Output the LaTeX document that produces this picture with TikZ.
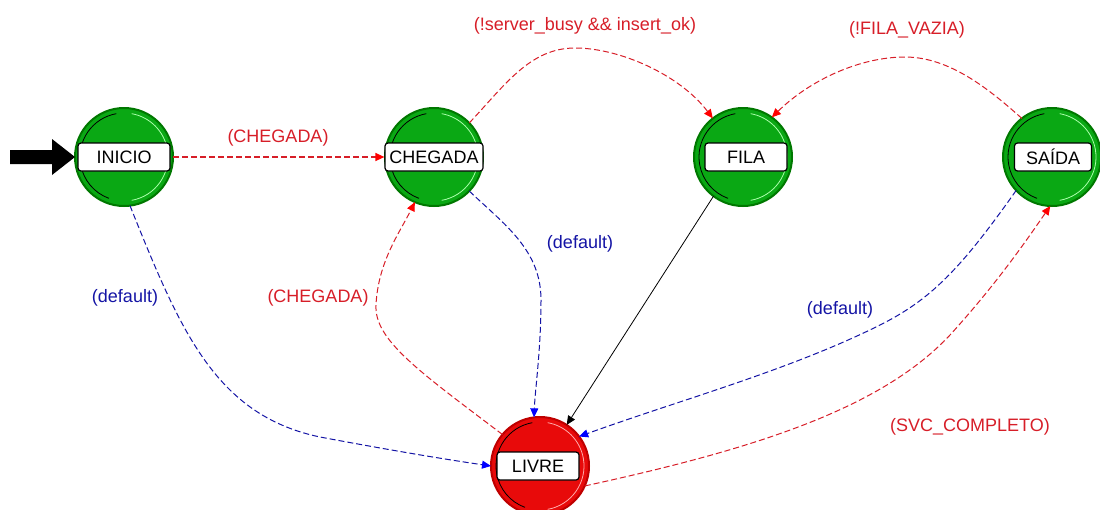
\documentclass[tikz,border=0pt]{standalone}
\usepackage{fontspec}
\setmainfont{Liberation Sans}
\usetikzlibrary{arrows.meta,calc}

\definecolor{stgreen}{RGB}{10,168,20}
\definecolor{stgreenrim}{RGB}{0,120,0}
\definecolor{stgreenlight}{RGB}{170,255,170}
\definecolor{stred}{RGB}{232,10,10}
\definecolor{stredrim}{RGB}{190,0,0}
\definecolor{stredlight}{RGB}{255,170,170}
\definecolor{trred}{RGB}{215,30,40}
\definecolor{trblue}{RGB}{20,20,165}

\tikzset{
  state/.style={circle, minimum size=98pt, inner sep=0pt, outer sep=0pt,
    line width=2pt},
  forced/.style={state, fill=stgreen, draw=stgreenrim},
  unforced/.style={state, fill=stred, draw=stredrim},
  namebox/.style={draw=black, line width=1.2pt, fill=white, rounded corners=3pt,
    minimum height=28pt, inner sep=0pt, font=\fontsize{18}{20}\selectfont},
  trans/.style={line width=1pt, dash pattern=on 6pt off 3pt},
  redtr/.style={trans, draw=trred, -{Triangle[length=9pt,width=8pt,color=red]}},
  bluetr/.style={trans, draw=trblue, -{Triangle[length=9pt,width=8pt,color=blue]}},
  cond/.style={font=\fontsize{18}{20}\selectfont, inner sep=1pt},
}

% inner shading arcs of a state circle
\newcommand{\statearcs}[2]{%
  \draw[black, line width=0.8pt] ($(#1)+(100:44pt)$) arc[start angle=100, end angle=250, radius=44pt];
  \draw[#2, line width=0.8pt] ($(#1)+(-80:44pt)$) arc[start angle=-80, end angle=80, radius=44pt];
}

\begin{document}
\begin{tikzpicture}[x=1pt, y=-1pt]
\useasboundingbox (0,0) rectangle (1100,509);

% states
\node[forced]   (inicio)  at (124,157) {};
\node[forced]   (chegada) at (434,157) {};
\node[forced]   (fila)    at (743,157) {};
\node[forced]   (saida)   at (1052,157) {};
\node[unforced] (livre)   at (540,466) {};

\statearcs{inicio}{stgreenlight}
\statearcs{chegada}{stgreenlight}
\statearcs{fila}{stgreenlight}
\statearcs{saida}{stgreenlight}
\statearcs{livre}{stredlight}

% state names
\node[namebox, minimum width=92pt] (inicioL)  at (124,157)  {INICIO};
\node[namebox, minimum width=98pt] (chegadaL) at (434,157)  {CHEGADA};
\node[namebox, minimum width=82pt] (filaL)    at (746,157)  {FILA};
\node[namebox, minimum width=77pt] (saidaL)   at (1053,157) {SAÍDA};
\node[namebox, minimum width=82pt] (livreL)   at (538,466)  {LIVRE};

% initial-state marker
\coordinate (initTip) at (inicio.west);
\fill[black] (10,150) -- (52,150) -- (52,139) -- (initTip) -- (52,175) -- (52,164) -- (10,164) -- cycle;

% transitions
\draw[redtr, line width=1.3pt] (inicio.east) -- (chegadaL.west);
\node[cond, trred] (lab1) at (278,138) {(CHEGADA)};

\draw[redtr] (chegada.44) .. controls (505,85) and (530,48) .. (575,48)
  .. controls (620,48) and (680,75) .. (fila.128);
\node[cond, trred] (lab2) at (585,26) {(!server\_busy \&\& insert\_ok)};

\draw[redtr] (saida.128) .. controls (990,90) and (950,57) .. (905,57)
  .. controls (860,57) and (810,80) .. (fila.54);
\node[cond, trred] (lab3) at (907,30) {(!FILA\_VAZIA)};

\draw[bluetr] (inicio.-83) .. controls (180,330) and (215,415) .. (320,437)
  .. controls (400,452) and (450,460) .. (livre.180);
\node[cond, trblue] (lab4) at (125,298) {(default)};

\draw[redtr] (livre.140) .. controls (420,372) and (374,340) .. (376,305)
  .. controls (378,262) and (400,232) .. (chegada.247);
\node[cond, trred] (lab5) at (318,298) {(CHEGADA)};

\draw[bluetr] (chegada.-44) .. controls (505,225) and (541,250) .. (541,300)
  .. controls (541,350) and (535,390) .. (livre.97);
\node[cond, trblue] (lab6) at (580,244) {(default)};

\draw[black, line width=0.8pt, -{Triangle[length=9pt,width=8pt]}] (fila.233) -- (livre.57);

\draw[bluetr] (saida.223) .. controls (960,270) and (930,300) .. (880,325)
  .. controls (790,370) and (680,400) .. (livre.37);
\node[cond, trblue] (lab7) at (840,310) {(default)};

\draw[redtr] (livre.-24) .. controls (750,450) and (880,410) .. (950,335)
  .. controls (1000,280) and (1030,235) .. (saida.268);
\node[cond, trred] (lab8) at (970,427) {(SVC\_COMPLETO)};

\end{tikzpicture}
\end{document}
